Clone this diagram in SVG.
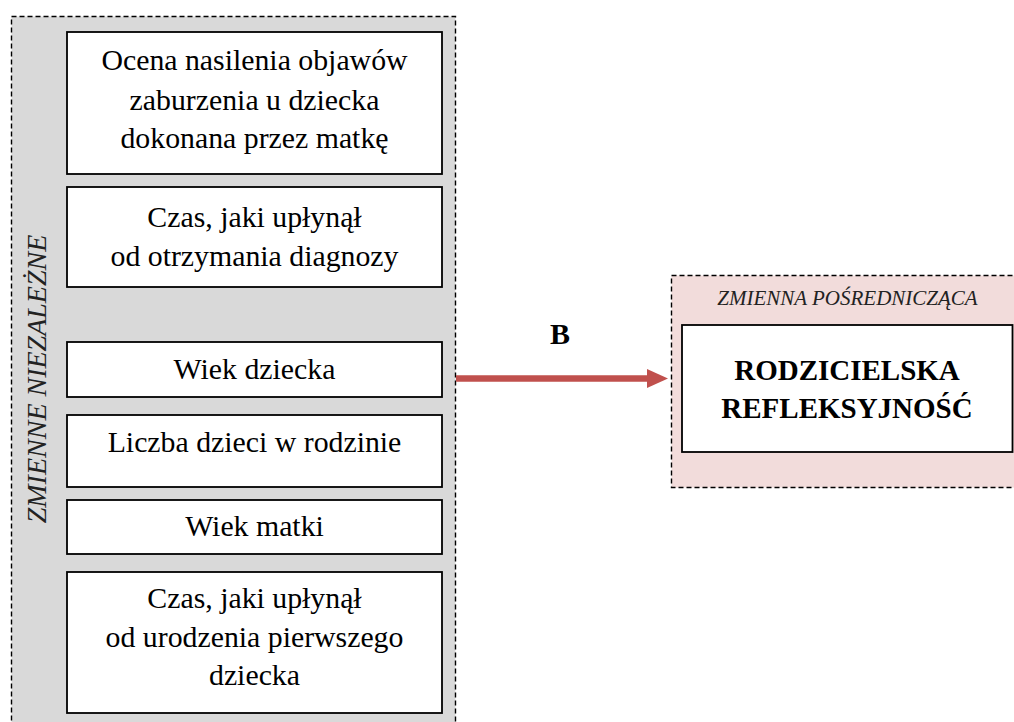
<svg xmlns="http://www.w3.org/2000/svg" width="1014" height="722" viewBox="0 0 1014 722">
  <rect width="1014" height="722" fill="#fff"/>

  <!-- independent variables panel -->
  <g id="independent-variables">
    <rect x="11.5" y="16.5" width="444" height="720" fill="#D9D9D9" stroke="#000" stroke-width="1.4" stroke-dasharray="5 3"/>
    <text font-family="Liberation Serif" font-style="italic" fill="#222" text-anchor="middle" font-size="28" transform="translate(46,379) rotate(-90)">ZMIENNE NIEZALEŻNE</text>
  </g>

  <!-- left-column variable boxes share one look through the parent group -->
  <g font-family="Liberation Serif" font-size="29.8" text-anchor="middle" fill="#000">
    <g id="node-objawy">
      <rect x="67" y="32" width="375" height="142" fill="#fff" stroke="#000" stroke-width="1.8"/>
      <text x="254.5" y="70">Ocena nasilenia objawów</text>
      <text x="254.5" y="110">zaburzenia u dziecka</text>
      <text x="254.5" y="148">dokonana przez matkę</text>
    </g>

    <g id="node-diagnoza">
      <rect x="67" y="187" width="375" height="100" fill="#fff" stroke="#000" stroke-width="1.8"/>
      <text x="254.5" y="227">Czas, jaki upłynął</text>
      <text x="254.5" y="266">od otrzymania diagnozy</text>
    </g>

    <g id="node-wiek-dziecka">
      <rect x="67" y="342" width="375" height="55" fill="#fff" stroke="#000" stroke-width="1.8"/>
      <text x="254.5" y="379">Wiek dziecka</text>
    </g>

    <g id="node-liczba-dzieci">
      <rect x="67" y="415" width="375" height="72" fill="#fff" stroke="#000" stroke-width="1.8"/>
      <text x="254.5" y="452">Liczba dzieci w rodzinie</text>
    </g>

    <g id="node-wiek-matki">
      <rect x="67" y="500" width="375" height="54" fill="#fff" stroke="#000" stroke-width="1.8"/>
      <text x="254.5" y="536">Wiek matki</text>
    </g>

    <g id="node-pierwsze-dziecko">
      <rect x="67" y="572" width="375" height="141" fill="#fff" stroke="#000" stroke-width="1.8"/>
      <text x="254.5" y="608">Czas, jaki upłynął</text>
      <text x="254.5" y="647">od urodzenia pierwszego</text>
      <text x="254.5" y="685">dziecka</text>
    </g>
  </g>

  <!-- mediator panel -->
  <g id="mediator" font-family="Liberation Serif" text-anchor="middle">
    <rect x="671.5" y="275.5" width="360" height="212" fill="#F2DCDB" stroke="#000" stroke-width="1.4" stroke-dasharray="5 3"/>
    <text font-style="italic" fill="#222" font-size="21" x="847.5" y="305">ZMIENNA POŚREDNICZĄCA</text>
    <rect x="682" y="325" width="330.5" height="127" fill="#fff" stroke="#000" stroke-width="1.8"/>
    <text font-weight="bold" font-size="29" x="847" y="380">RODZICIELSKA</text>
    <text font-weight="bold" font-size="29" x="847" y="418">REFLEKSYJNOŚĆ</text>
  </g>

  <!-- connectors -->
  <g id="connectors">
    <line x1="456" y1="378.5" x2="650" y2="378.5" stroke="#C0504D" stroke-width="6.5"/>
    <polygon points="647,369 668,378.5 647,388" fill="#C0504D"/>
    <text font-family="Liberation Serif" font-weight="bold" text-anchor="middle" font-size="30" x="560" y="344">B</text>
  </g>
</svg>
